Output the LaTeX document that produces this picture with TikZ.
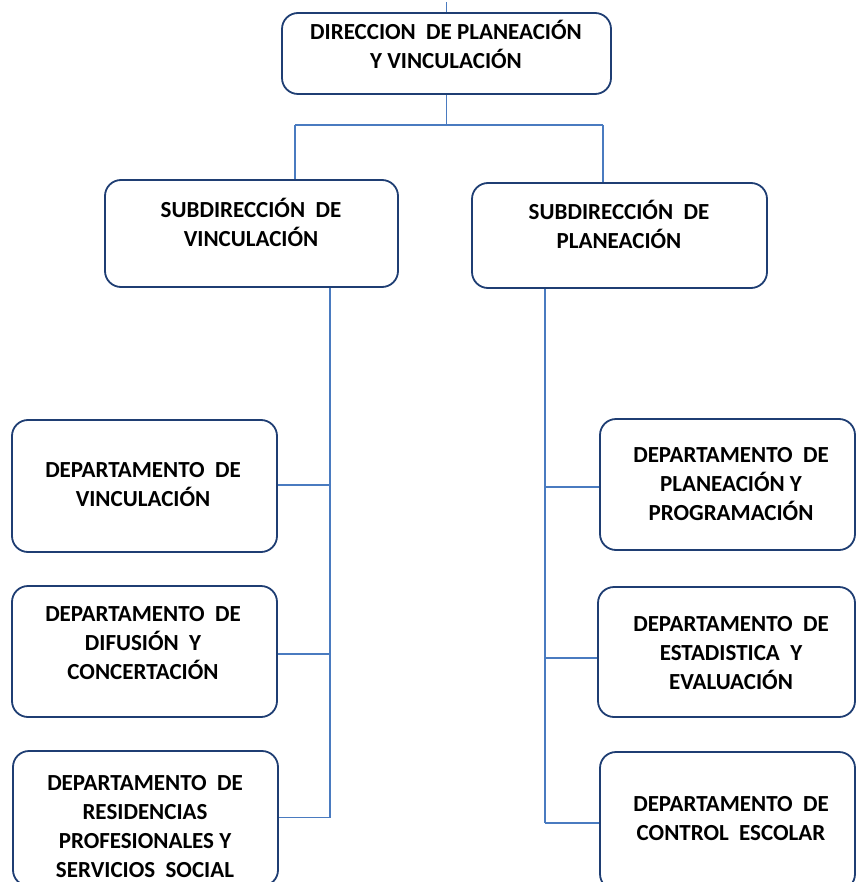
\documentclass[tikz,border=0pt]{standalone}
\usepackage{fontspec}
\setmainfont{Carlito}
\definecolor{boxline}{HTML}{1F3E73}
\definecolor{connline}{HTML}{4A7BC0}
\newcommand\capstrut{\rule[-0.25em]{0pt}{0.95em}}
\tikzset{
  orgbox/.style={draw=boxline, line width=1.8pt, rounded corners=16pt,
                 fill=white, inner sep=0pt},
  orgtext/.style={font=\fontsize{23}{29}\selectfont\bfseries, align=center,
                  inner sep=0pt, text=black},
  conn/.style={draw=connline, line width=1.4pt},
}
\begin{document}
\begin{tikzpicture}[x=1pt, y=-1pt]
\useasboundingbox (0,0) rectangle (856,882);

% boxes
\node[orgbox, minimum width=329pt, minimum height=81pt]  (top)  at (446.5,53.5) {};
\node[orgbox, minimum width=293pt, minimum height=107pt] (subL) at (251.5,233.5) {};
\node[orgbox, minimum width=295pt, minimum height=105pt] (subR) at (619.5,235.5) {};
\node[orgbox, minimum width=265pt, minimum height=132pt] (L1) at (144.5,486) {};
\node[orgbox, minimum width=265pt, minimum height=131pt] (L2) at (144.5,651.5) {};
\node[orgbox, minimum width=265pt, minimum height=135pt] (L3) at (145.5,818.5) {};
\node[orgbox, minimum width=255pt, minimum height=131pt] (R1) at (727.5,484.5) {};
\node[orgbox, minimum width=257pt, minimum height=130pt] (R2) at (726.5,652) {};
\node[orgbox, minimum width=255pt, minimum height=138pt] (R3) at (727.5,821) {};

% labels
\node[orgtext] (topt) at (446,47.5) {\capstrut DIRECCION\ \ DE PLANEACIÓN\\Y VINCULACIÓN\capstrut};
\node[orgtext] (subLt) at (251,225) {\capstrut SUBDIRECCIÓN\ \ DE\\VINCULACIÓN\capstrut};
\node[orgtext] (subRt) at (619,227) {\capstrut SUBDIRECCIÓN\ \ DE\\PLANEACIÓN\capstrut};
\node[orgtext] (L1t) at (143,487) {\capstrut DEPARTAMENTO\ \ DE\\VINCULACIÓN\capstrut};
\node[orgtext] (L2t) at (143,645.5) {\capstrut DEPARTAMENTO\ \ DE\\DIFUSIÓN\ \ Y\\CONCERTACIÓN\capstrut};
\node[orgtext] (L3t) at (145,828.5) {\capstrut DEPARTAMENTO\ \ DE\\RESIDENCIAS\\PROFESIONALES\ Y\\SERVICIOS\ \ SOCIAL\capstrut};
\node[orgtext] (R1t) at (731,486) {\capstrut DEPARTAMENTO\ \ DE\\PLANEACIÓN\ Y\\PROGRAMACIÓN\capstrut};
\node[orgtext] (R2t) at (731,655) {\capstrut DEPARTAMENTO\ \ DE\\ESTADISTICA\ \ Y\\EVALUACIÓN\capstrut};
\node[orgtext] (R3t) at (731,821) {\capstrut DEPARTAMENTO\ \ DE\\CONTROL\ \ ESCOLAR\capstrut};

% connector coordinates
\coordinate (jl) at (295,125);
\coordinate (jr) at (603,125);
\coordinate (lx) at (330,0);
\coordinate (rx) at (545,0);

% top level
\draw[conn] (top.north) -- ++(0,-10);
\draw[conn] (top.south) -- (top.south |- jl);
\draw[conn] (jl) -- (jr);
\draw[conn] (jl) -- (jl |- subL.north);
\draw[conn] (jr) -- (jr |- subR.north);

% left branch
\draw[conn] (subL.south -| lx) -- ([yshift=1pt]L3.east -| lx);
\draw[conn] ([yshift=1pt]L1.east) -- ([yshift=1pt]L1.east -| lx);
\draw[conn] ([yshift=-2.5pt]L2.east) -- ([yshift=-2.5pt]L2.east -| lx);
\draw[conn] ([yshift=1pt]L3.east) -- ([yshift=1pt]L3.east -| lx);

% right branch
\draw[conn] (subR.south -| rx) -- ([yshift=-2pt]R3.west -| rx);
\draw[conn] ([yshift=-2.5pt]R1.west) -- ([yshift=-2.5pt]R1.west -| rx);
\draw[conn] ([yshift=-6pt]R2.west) -- ([yshift=-6pt]R2.west -| rx);
\draw[conn] ([yshift=-2pt]R3.west) -- ([yshift=-2pt]R3.west -| rx);
\end{tikzpicture}
\end{document}
